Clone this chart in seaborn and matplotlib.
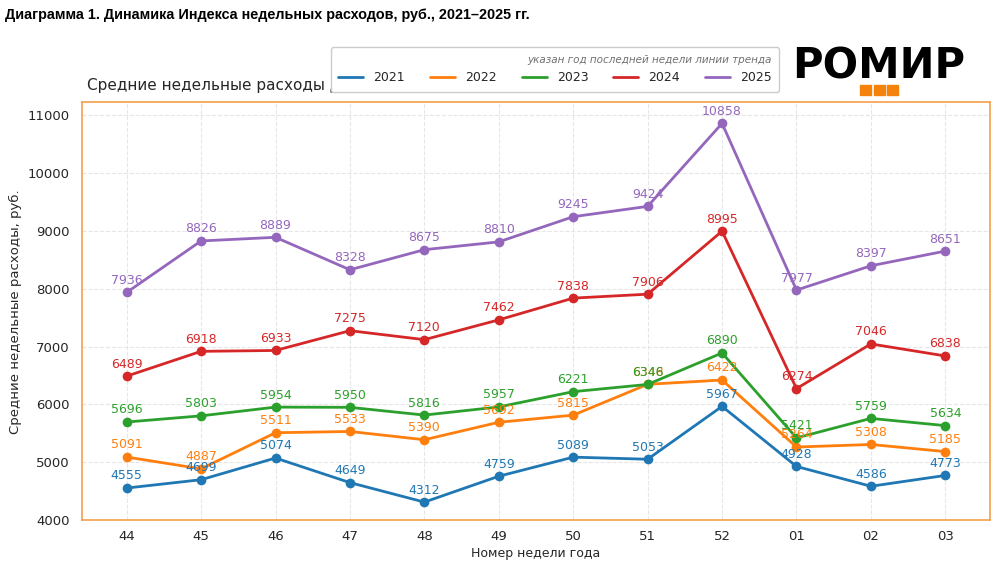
import numpy as np
import pandas as pd
import matplotlib
matplotlib.use("Agg")
import matplotlib.pyplot as plt
from matplotlib.patches import Rectangle
import seaborn as sns

# ── Данные ─────────────────────────────────────────────
WEEKS = ["44", "45", "46", "47", "48", "49", "50", "51", "52", "01", "02", "03"]
YEARS = ["2021", "2022", "2023", "2024", "2025"]
V2021 = [4555, 4699, 5074, 4649, 4312, 4759, 5089, 5053, 5967, 4928, 4586, 4773]
V2022 = [5091, 4887, 5511, 5533, 5390, 5692, 5815, 6348, 6422, 5264, 5308, 5185]
V2023 = [5696, 5803, 5954, 5950, 5816, 5957, 6221, 6346, 6890, 5421, 5759, 5634]
V2024 = [6489, 6918, 6933, 7275, 7120, 7462, 7838, 7906, 8995, 6274, 7046, 6838]
V2025 = [7936, 8826, 8889, 8328, 8675, 8810, 9245, 9424, 10858, 7977, 8397, 8651]

series = dict(zip(YEARS, [V2021, V2022, V2023, V2024, V2025]))
df = pd.DataFrame([
    {"week": i, "year": y, "value": v}
    for y, vals in series.items() for i, v in enumerate(vals)
])

sns.set_theme(style="whitegrid")
plt.rcParams["font.family"] = ["DejaVu Sans"]
colors = sns.color_palette("tab10", 5)

fig = plt.figure(figsize=(10, 5.66), dpi=100)
ax = fig.add_axes([0.082, 0.081, 0.908, 0.738])

sns.lineplot(data=df, x="week", y="value", hue="year", palette=colors,
             marker="o", markersize=7, markeredgewidth=0, linewidth=2,
             ax=ax, legend=True)

for c, (y, vals) in zip(colors, series.items()):
    for i, v in enumerate(vals):
        ax.annotate(str(v), (i, v), xytext=(0, 4), textcoords="offset points",
                    ha="center", va="bottom", fontsize=9, color=c)

ax.set_xlim(-0.6, len(WEEKS) - 0.4)
ax.set_ylim(4000, 11220)
ax.set_yticks(range(4000, 11001, 1000))
ax.set_xticks(range(len(WEEKS)))
ax.set_xticklabels(WEEKS)
ax.tick_params(labelsize=9.5, pad=3)
ax.tick_params(axis="x", pad=1)
ax.set_xlabel("Номер недели года", fontsize=9, labelpad=3)
ax.set_ylabel("Средние недельные расходы, руб.", fontsize=9.5, labelpad=4)
ax.grid(True, linestyle="--", color="#e6e6e6", linewidth=0.8)
ax.set_facecolor("white")
for s in ax.spines.values():
    s.set_visible(True)
    s.set_color("#f5a04a")
    s.set_linewidth(1.2)

ax.set_title("Средние недельные расходы ДХ", loc="left", fontsize=11,
             x=0.005, pad=9)

handles, labels = ax.get_legend_handles_labels()
for h in handles:
    h.set_marker("")
leg = ax.legend(handles, labels, loc="upper center",
                bbox_to_anchor=(0.521, 1.147), ncol=5,
                fontsize=9, frameon=True, columnspacing=2.0,
                handlelength=2.0, borderpad=0.6,
                title="указан год последней недели линии тренда",
                title_fontsize=7.5, alignment="right")
leg.get_title().set_fontstyle("italic")
leg.get_title().set_color("#707070")
leg.get_frame().set_edgecolor("#cccccc")
leg.get_frame().set_alpha(1)
leg.set_zorder(10)

fig.text(0.005, 0.985, "Диаграмма 1. Динамика Индекса недельных расходов, руб., 2021–2025 гг.",
         fontsize=10.4, fontweight="bold", ha="left", va="top", color="black",
         family=["Liberation Sans", "DejaVu Sans"])

fig.text(0.879, 0.882, "РОМИР", fontsize=30, fontweight="black",
         ha="center", va="center", color="black", family=["DejaVu Sans"])
for x0 in (0.860, 0.874, 0.887):
    fig.patches.append(Rectangle((x0, 0.833), 0.011, 0.017,
                                 transform=fig.transFigure,
                                 color="#f5820a", zorder=5))

fig.savefig("out.png", dpi=100)
